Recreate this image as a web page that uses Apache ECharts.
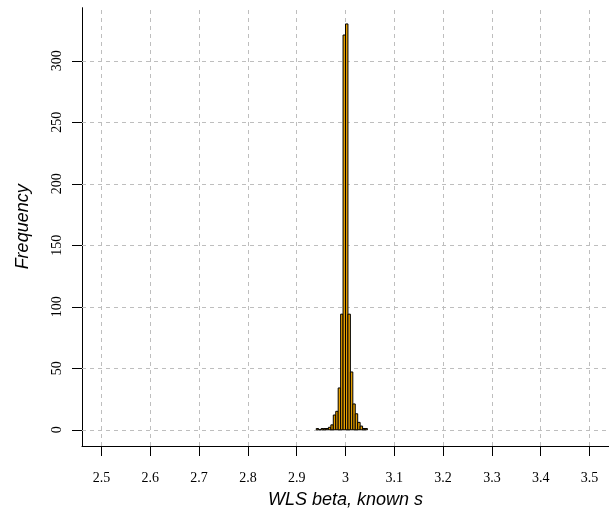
<!DOCTYPE html>
<html>
<head>
<meta charset="utf-8">
<script src="https://cdn.jsdelivr.net/npm/echarts@6/dist/echarts.min.js"></script>
<style>html,body{margin:0;padding:0;background:#fff}#c{width:609px;height:514px}</style>
</head>
<body>
<div id="c"></div>
<script>
// histogram bins (left edges) and counts
var binStarts = [2.940,2.945,2.950,2.955,2.960,2.965,2.970,2.975,2.980,2.985,2.990,2.995,3.000,3.005,3.010,3.015,3.020,3.025,3.030,3.035,3.040];
var counts    = [1,0,1,1,1,2,4,12,15,34,94,321,330,94,47,21,13,6,3,1,1];
var binWidth = 0.005;
var xTicks = [2.5,2.6,2.7,2.8,2.9,3.0,3.1,3.2,3.3,3.4,3.5];
var yTicks = [0,50,100,150,200,250,300];
var xTitle = 'WLS beta, known s';
var yTitle = 'Frequency';

var data = binStarts.map(function(s,i){return [s, s+binWidth, counts[i]];});
var grid = {left:82, right:-1, top:7.7, bottom:66.7};
var gridStyle = {color:'#bebebe', type:[4,4], width:1};

var chart = echarts.init(document.getElementById('c'), null, {renderer:'canvas'});
chart.setOption({
  animation:false,
  backgroundColor:'#ffffff',
  grid: grid,
  xAxis: {
    type:'value', min:2.46, max:3.54,
    axisLine:{show:true, onZero:false, lineStyle:{color:'#000', width:1}},
    axisTick:{show:true, customValues:xTicks, length:10, lineStyle:{color:'#000'}},
    axisLabel:{show:true, customValues:xTicks, margin:25, color:'#000',
      fontFamily:'Liberation Serif', fontSize:14,
      formatter:function(v){return String(+(+v).toFixed(1));}},
    splitLine:{show:false},
    name:xTitle, nameLocation:'middle', nameGap:45,
    nameTextStyle:{fontFamily:'Liberation Sans', fontStyle:'italic', fontSize:18, color:'#000'}
  },
  yAxis: {
    type:'value', min:-13.2, max:343.2,
    axisLine:{show:true, onZero:false, lineStyle:{color:'#000', width:1}},
    axisTick:{show:true, customValues:yTicks, length:10, lineStyle:{color:'#000'}},
    axisLabel:{show:true, customValues:yTicks, margin:18, rotate:90, color:'#000',
      fontFamily:'Liberation Serif', fontSize:14},
    splitLine:{show:false},
    name:yTitle, nameLocation:'middle', nameGap:50,
    nameTextStyle:{fontFamily:'Liberation Sans', fontStyle:'italic', fontSize:18, color:'#000'}
  },
  series: [
    {
      type:'line', data:[], z:1, silent:true,
      markLine:{
        silent:true, symbol:['none','none'], label:{show:false},
        lineStyle:gridStyle, animation:false,
        data: xTicks.map(function(v){return {xAxis:v};}).concat(yTicks.map(function(v){return {yAxis:v};}))
      }
    },
    {
      type:'custom', z:5, data:data,
      renderItem:function(params, api){
        var p0 = api.coord([api.value(0), 0]);
        var p1 = api.coord([api.value(1), api.value(2)]);
        return {
          type:'rect',
          shape:{x:p0[0], y:p1[1], width:p1[0]-p0[0], height:p0[1]-p1[1]},
          style:{fill:'#E69F00', stroke:'#000', lineWidth:1}
        };
      }
    }
  ]
});
</script>
</body>
</html>
